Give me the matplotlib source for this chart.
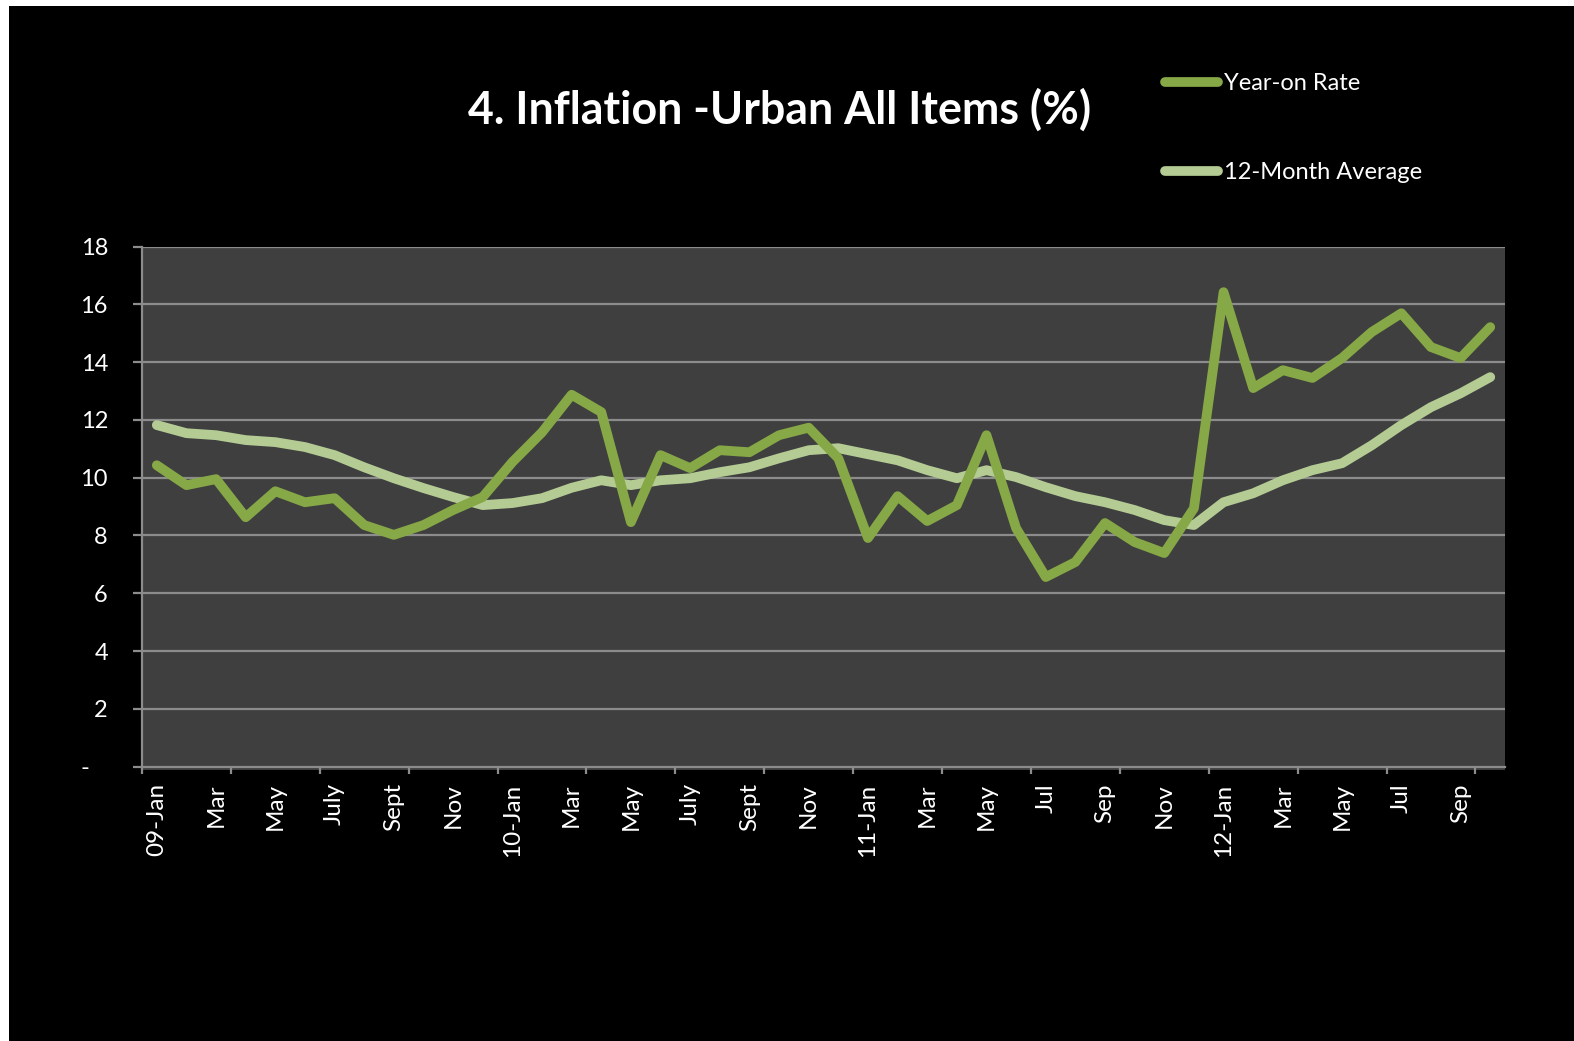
"""Inflation - Urban All Items (%), year-on rate vs 12-month average, 2009-2012."""
import matplotlib
matplotlib.use("Agg")
import matplotlib.pyplot as plt
from matplotlib.patches import Rectangle
from matplotlib.ticker import FixedLocator

plt.rcParams["font.family"] = ["Lato", "DejaVu Sans"]

# Jan 2009 .. Oct 2012, one value per month
year_on_rate = [
    10.43, 9.74, 9.95, 8.63, 9.53, 9.15, 9.29, 8.36, 8.02, 8.36, 8.88, 9.33,
    10.54, 11.57, 12.87, 12.27, 8.46, 10.78, 10.33, 10.95, 10.88, 11.47, 11.73, 10.67,
    7.91, 9.36, 8.50, 9.05, 11.47, 8.25, 6.56, 7.08, 8.43, 7.77, 7.39, 8.94,
    16.42, 13.10, 13.72, 13.45, 14.14, 15.04, 15.69, 14.52, 14.14, 15.21,
]
avg_12m = [
    11.82, 11.54, 11.47, 11.30, 11.23, 11.06, 10.78, 10.36, 9.98, 9.64, 9.33, 9.05,
    9.12, 9.29, 9.65, 9.91, 9.74, 9.91, 9.98, 10.19, 10.36, 10.67, 10.95, 11.02,
    10.81, 10.60, 10.26, 9.98, 10.26, 10.02, 9.67, 9.36, 9.15, 8.88, 8.53, 8.36,
    9.15, 9.46, 9.91, 10.26, 10.50, 11.12, 11.82, 12.44, 12.92, 13.48,
]
# labels shown on every second month
month_labels = [
    "09-Jan", "Mar", "May", "July", "Sept", "Nov",
    "10-Jan", "Mar", "May", "July", "Sept", "Nov",
    "11-Jan", "Mar", "May", "Jul", "Sep", "Nov",
    "12-Jan", "Mar", "May", "Jul", "Sep",
]
y_ticks = [0, 2, 4, 6, 8, 10, 12, 14, 16, 18]
y_labels = ["-   "] + [str(v) for v in y_ticks[1:]]

DARK = "#86A846"
LIGHT = "#B4CC94"
GRID = "#8C8C8C"

fig = plt.figure(figsize=(15.74, 10.41), dpi=100, facecolor="white")
fig.patches.append(Rectangle((9 / 1574, 0), 1, 1 - 6 / 1041,
                             transform=fig.transFigure, facecolor="black",
                             edgecolor="none", zorder=-10))

ax = fig.add_axes([0.0902, 0.2608, 0.9562 - 0.0902, 0.7632 - 0.2608])
ax.set_facecolor("#3F3F3F")

x = list(range(len(year_on_rate)))
ax.plot(x, year_on_rate, color=DARK, lw=7, solid_capstyle="round",
        solid_joinstyle="round", label="Year-on Rate", zorder=4)
ax.plot(x, avg_12m, color=LIGHT, lw=7, solid_capstyle="round",
        solid_joinstyle="round", label="12-Month Average", zorder=3)

ax.set_xlim(-0.5, len(x) - 0.5)
ax.set_ylim(-0.1, 18)

for v in y_ticks[1:]:
    ax.axhline(v, color=GRID, lw=1.6, zorder=1)

for side in ("top", "right"):
    ax.spines[side].set_visible(False)
ax.spines["left"].set_color(GRID)
ax.spines["left"].set_linewidth(1.6)
ax.spines["left"].set_bounds(0, 18)
ax.spines["bottom"].set_position(("data", 0))
ax.spines["bottom"].set_color(GRID)
ax.spines["bottom"].set_linewidth(1.6)

ax.set_yticks(y_ticks)
ax.set_yticklabels(y_labels)
ax.tick_params(axis="y", direction="out", length=6.5, width=1.6, color=GRID,
               pad=18, labelsize=17, labelcolor="white")

ax.set_xticks(x[::2])
ax.set_xticklabels(month_labels, rotation=90, ha="center", va="top")
ax.tick_params(axis="x", which="major", length=0, pad=12, labelsize=17.5,
               labelcolor="white")
ax.xaxis.set_minor_locator(FixedLocator([i - 0.5 for i in x[::3]]))
ax.tick_params(axis="x", which="minor", direction="out", length=5, width=1.6,
               color=GRID)

fig.text(780 / 1574, 1 - 110 / 1041, "4. Inflation -Urban All Items (%)",
         ha="center", va="center", color="white", fontsize=32.2,
         fontweight="bold")

leg = fig.legend(loc="upper left", bbox_to_anchor=(1165 / 1574, 1 - 73 / 1041),
                 frameon=False, fontsize=17, labelcolor="white",
                 handlelength=2.25, handletextpad=0.25, labelspacing=2.9,
                 borderpad=0, borderaxespad=0)

fig.savefig("out.png", dpi=100, facecolor=fig.get_facecolor())
